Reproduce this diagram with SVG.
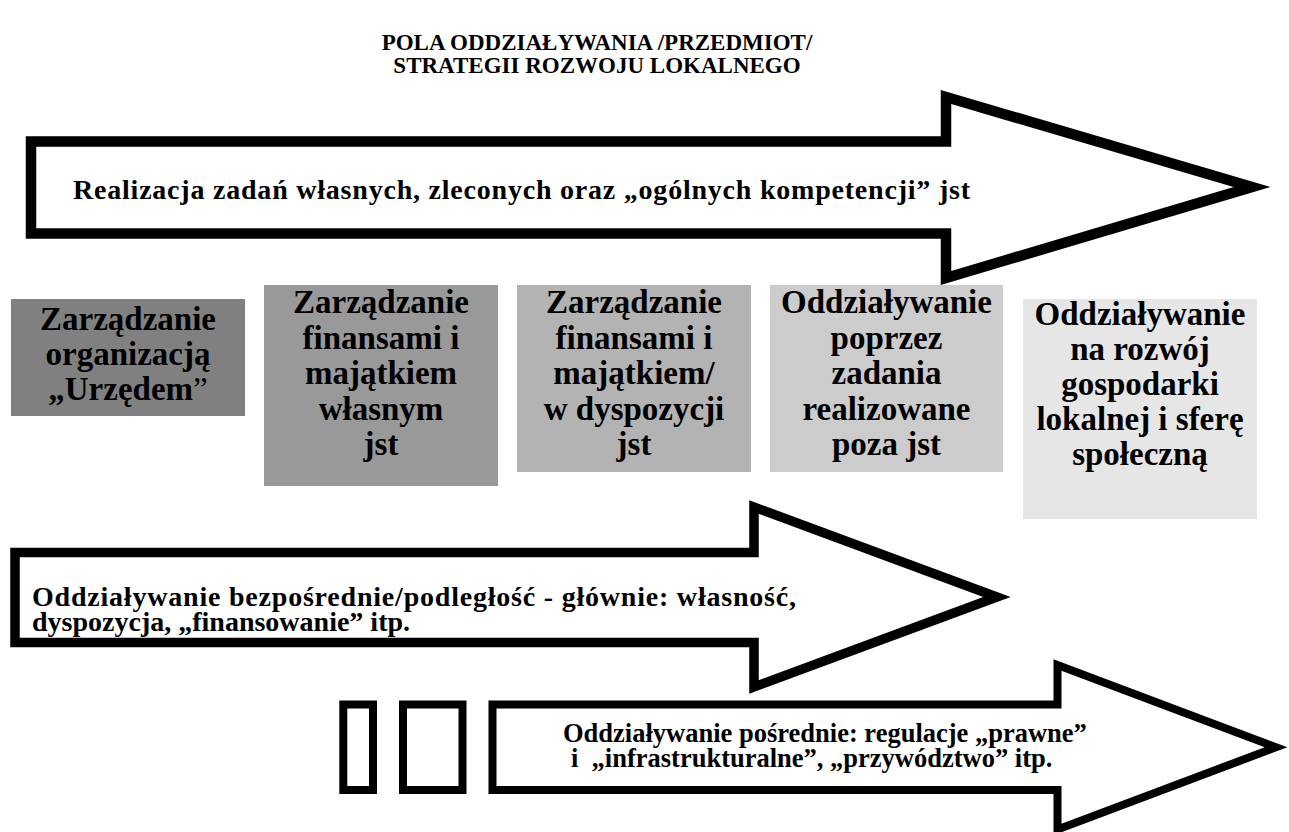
<svg xmlns="http://www.w3.org/2000/svg" width="1289" height="832" viewBox="0 0 1289 832">
<style>
text{font-family:"Liberation Serif","Times New Roman",serif;font-weight:bold;fill:#000}
.title{font-size:23px;text-anchor:middle}
.box{font-size:33px;text-anchor:middle}
.arr{fill:#fff;stroke:#000;stroke-linejoin:miter;stroke-miterlimit:10}
.frame{fill:none;stroke:#000;stroke-width:8}
</style>
<rect width="1289" height="832" fill="#fff"/>
<g id="title">
<text class="title" x="597" y="50">POLA ODDZIAŁYWANIA /PRZEDMIOT/</text>
<text class="title" x="597" y="73">STRATEGII ROZWOJU LOKALNEGO</text>
</g>
<g id="connectors">
<g id="arrow-top">
<polygon class="arr" stroke-width="10.5" points="31,141.5 946,141.5 946,97 1252,187 946,278 946,233.5 31,233.5"/>
<text x="73" y="199" font-size="28" textLength="897" lengthAdjust="spacing">Realizacja zadań własnych, zleconych oraz „ogólnych kompetencji” jst</text>
</g>
<g id="arrow-middle">
<polygon class="arr" stroke-width="9.5" points="15,552.5 754,552.5 754,507 997,597 754,687 754,642.5 15,642.5"/>
<text x="32" y="606" font-size="28" textLength="764" lengthAdjust="spacing">Oddziaływanie bezpośrednie/podległość - głównie: własność,</text>
<text x="32" y="631" font-size="28">dyspozycja, „finansowanie” itp.</text>
</g>
<g id="arrow-bottom">
<rect class="frame" x="343.3" y="704.5" width="29.7" height="85.5"/>
<rect class="frame" x="403" y="704.5" width="59.5" height="85.5"/>
<polygon class="arr" stroke-width="8" points="492.5,704.5 1057.5,704.5 1057.5,665 1276,747.25 1057.5,829.5 1057.5,790 492.5,790"/>
<text x="563" y="742" font-size="26.5">Oddziaływanie pośrednie: regulacje „prawne”</text>
<text x="571" y="767" font-size="26.5" style="white-space:pre">i  „infrastrukturalne”, „przywództwo” itp.</text>
</g>
</g>
<g id="box1">
<rect x="11" y="299" width="234" height="117" fill="#808080"/>
<text class="box" x="128" y="330">Zarządzanie</text>
<text class="box" x="128" y="365">organizacją</text>
<text class="box" x="128" y="400">„Urzędem<tspan font-weight="normal">”</tspan></text>
</g>
<g id="box2">
<rect x="264" y="285" width="234" height="201" fill="#999999"/>
<text class="box" x="381" y="313">Zarządzanie</text>
<text class="box" x="381" y="348.5">finansami i</text>
<text class="box" x="381" y="384">majątkiem</text>
<text class="box" x="381" y="419.5">własnym</text>
<text class="box" x="381" y="455">jst</text>
</g>
<g id="box3">
<rect x="517" y="285" width="234" height="187" fill="#b3b3b3"/>
<text class="box" x="634" y="313">Zarządzanie</text>
<text class="box" x="634" y="348.5">finansami i</text>
<text class="box" x="634" y="384">majątkiem/</text>
<text class="box" x="634" y="419.5">w dyspozycji</text>
<text class="box" x="634" y="455">jst</text>
</g>
<g id="box4">
<rect x="770" y="285" width="233" height="187" fill="#cccccc"/>
<text class="box" x="886.5" y="313">Oddziaływanie</text>
<text class="box" x="886.5" y="348.5">poprzez</text>
<text class="box" x="886.5" y="384">zadania</text>
<text class="box" x="886.5" y="419.5">realizowane</text>
<text class="box" x="886.5" y="455">poza jst</text>
</g>
<g id="box5">
<rect x="1023" y="299" width="234" height="220" fill="#e6e6e6"/>
<text class="box" x="1140" y="325">Oddziaływanie</text>
<text class="box" x="1140" y="360">na rozwój</text>
<text class="box" x="1140" y="395">gospodarki</text>
<text class="box" x="1140" y="430">lokalnej i sferę</text>
<text class="box" x="1140" y="465">społeczną</text>
</g>
</svg>
